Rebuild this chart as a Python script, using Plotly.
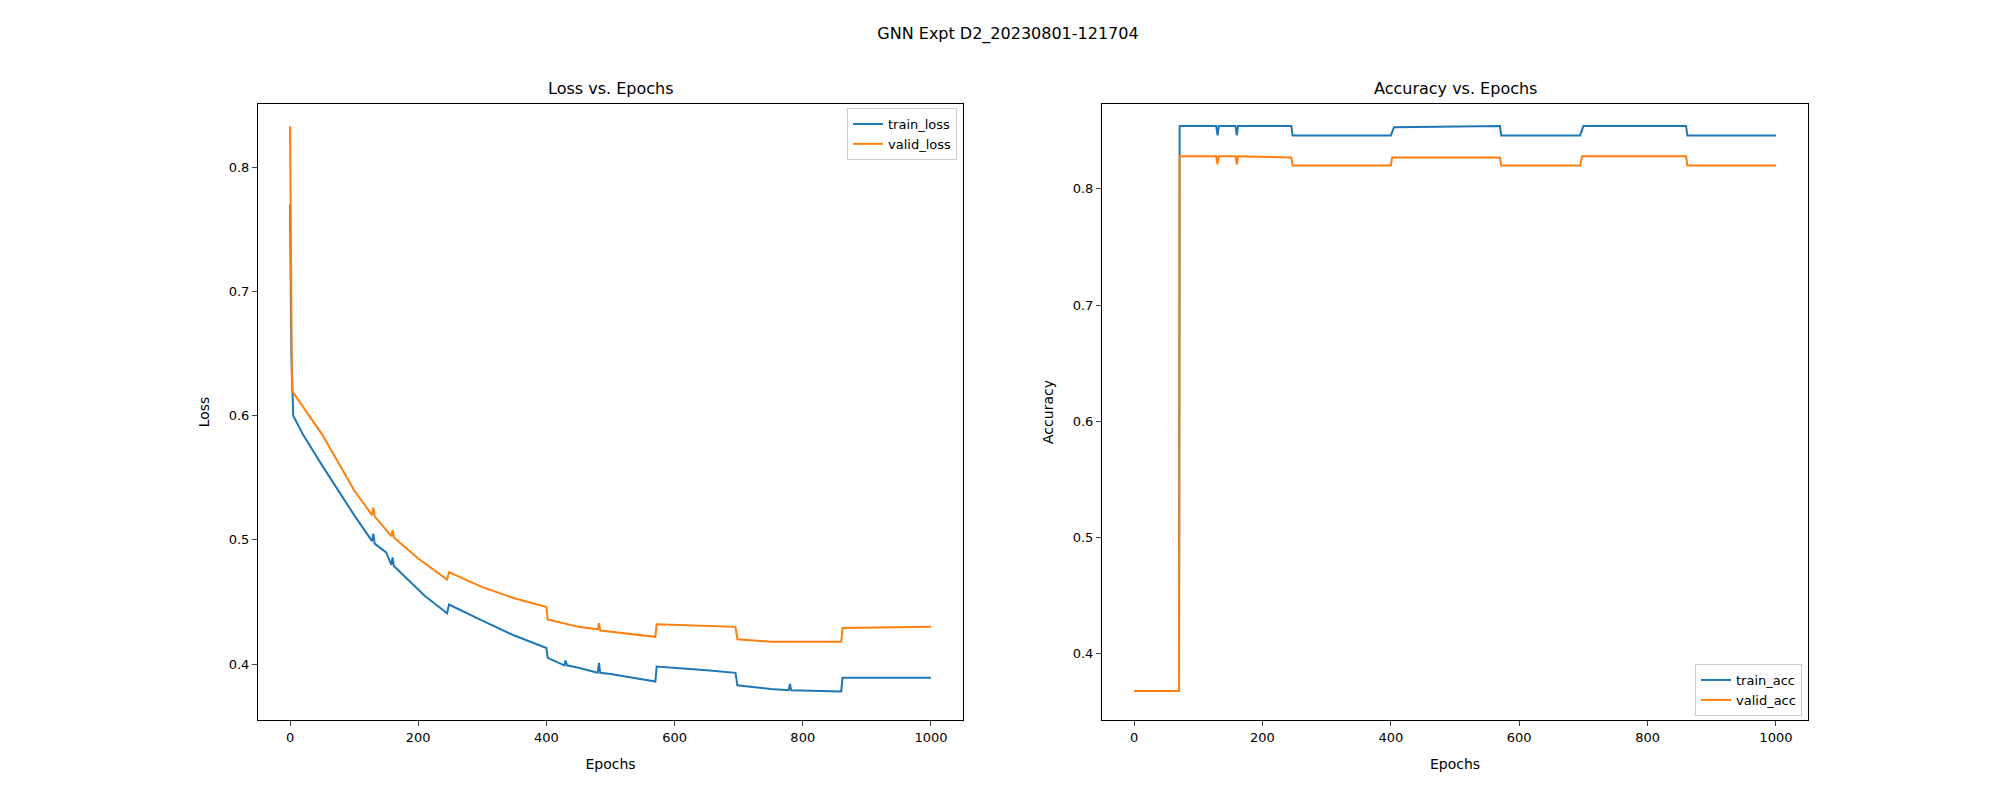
import plotly.graph_objects as go
from plotly.subplots import make_subplots

# values (epoch, value) at breakpoints
train_loss_ep = [0, 2, 5, 20, 50, 100, 128, 130, 132, 150, 158, 160, 162, 200, 210, 245, 248, 300, 350, 400, 402, 428, 430, 432, 450, 480, 482, 484, 500, 570, 572, 650, 695, 698, 750, 778, 780, 782, 860, 862, 1000]
train_loss = [0.77, 0.65, 0.60, 0.585, 0.56, 0.52, 0.499, 0.505, 0.497, 0.49, 0.480, 0.486, 0.479, 0.46, 0.455, 0.441, 0.448, 0.435, 0.423, 0.413, 0.405, 0.399, 0.403, 0.399, 0.397, 0.393, 0.401, 0.393, 0.392, 0.386, 0.398, 0.395, 0.393, 0.383, 0.380, 0.379, 0.384, 0.379, 0.378, 0.389, 0.389]

valid_loss_ep = [0, 3, 50, 100, 128, 130, 132, 158, 160, 162, 200, 245, 248, 300, 350, 400, 402, 450, 480, 482, 484, 500, 570, 572, 695, 698, 750, 860, 862, 1000]
valid_loss = [0.833, 0.62, 0.585, 0.54, 0.520, 0.526, 0.519, 0.503, 0.508, 0.502, 0.485, 0.468, 0.474, 0.462, 0.453, 0.446, 0.436, 0.430, 0.428, 0.433, 0.427, 0.426, 0.422, 0.432, 0.430, 0.420, 0.418, 0.418, 0.429, 0.430]

train_acc_ep = [0, 70, 71, 128, 130, 132, 158, 160, 162, 245, 247, 400, 405, 570, 572, 695, 700, 860, 862, 1000]
train_acc = [0.368, 0.368, 0.854, 0.854, 0.846, 0.854, 0.854, 0.846, 0.854, 0.854, 0.846, 0.846, 0.853, 0.854, 0.846, 0.846, 0.854, 0.854, 0.846, 0.846]

valid_acc_ep = [0, 70, 71, 128, 130, 132, 158, 160, 162, 245, 247, 400, 402, 570, 572, 695, 698, 860, 862, 1000]
valid_acc = [0.368, 0.368, 0.828, 0.828, 0.821, 0.828, 0.828, 0.821, 0.828, 0.827, 0.820, 0.820, 0.827, 0.827, 0.820, 0.820, 0.828, 0.828, 0.820, 0.820]

blue, orange = '#1f77b4', '#ff7f0e'

fig = make_subplots(rows=1, cols=2)
fig.add_trace(go.Scatter(x=train_loss_ep, y=train_loss, mode='lines', name='train_loss', line=dict(color=blue, width=2), legend='legend'), 1, 1)
fig.add_trace(go.Scatter(x=valid_loss_ep, y=valid_loss, mode='lines', name='valid_loss', line=dict(color=orange, width=2), legend='legend'), 1, 1)
fig.add_trace(go.Scatter(x=train_acc_ep, y=train_acc, mode='lines', name='train_acc', line=dict(color=blue, width=2), legend='legend2'), 1, 2)
fig.add_trace(go.Scatter(x=valid_acc_ep, y=valid_acc, mode='lines', name='valid_acc', line=dict(color=orange, width=2), legend='legend2'), 1, 2)

axis_style = dict(showline=True, linecolor='black', mirror=True, ticks='outside', showgrid=False, zeroline=False, tickfont=dict(size=13))
fig.update_xaxes(axis_style, range=[-50, 1050], tickvals=[0, 200, 400, 600, 800, 1000], title_text='Epochs', title_font=dict(size=14))
fig.update_xaxes(domain=[0.125, 0.4775], row=1, col=1)
fig.update_xaxes(domain=[0.547, 0.9], row=1, col=2)
fig.update_yaxes(axis_style, domain=[0.11, 0.88], title_font=dict(size=14))
fig.update_yaxes(range=[0.355, 0.851], tickvals=[0.4, 0.5, 0.6, 0.7, 0.8], title_text='Loss', row=1, col=1)
fig.update_yaxes(range=[0.343, 0.873], tickvals=[0.4, 0.5, 0.6, 0.7, 0.8], title_text='Accuracy', row=1, col=2)

for title, xc in [('Loss vs. Epochs', 0.30125), ('Accuracy vs. Epochs', 0.7235)]:
    fig.add_annotation(text=title, x=xc, y=0.88, xref='paper', yref='paper',
                       xanchor='center', yanchor='bottom', yshift=4, showarrow=False, font=dict(size=16))

legend_style = dict(bgcolor='white', bordercolor='#cccccc', borderwidth=1, font=dict(size=13))
fig.update_layout(
    title=dict(text='GNN Expt D2_20230801-121704', x=0.5, y=0.975, font=dict(size=16)),
    width=2000, height=800, margin=dict(l=0, r=0, t=0, b=0),
    plot_bgcolor='white', paper_bgcolor='white',
    font=dict(family='DejaVu Sans', color='black'),
    legend=dict(legend_style, x=0.4745, y=0.875, xanchor='right', yanchor='top'),
    legend2=dict(legend_style, x=0.897, y=0.115, xanchor='right', yanchor='bottom'),
)
fig.write_html('out.html')
